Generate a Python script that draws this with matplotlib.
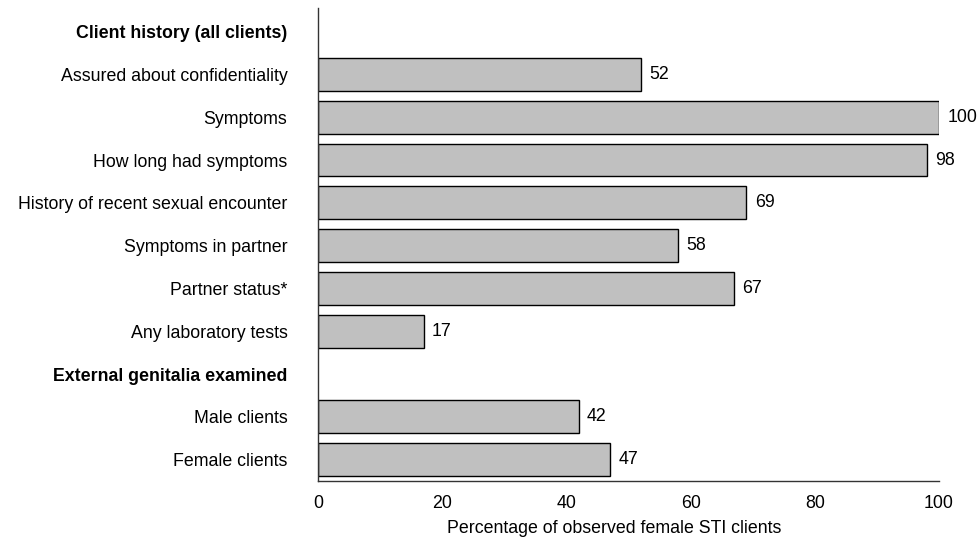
import numpy as np
import matplotlib
matplotlib.use("Agg")
import matplotlib.pyplot as plt

plt.rcParams['font.family'] = ['Liberation Sans', 'DejaVu Sans']

# rows top to bottom; None = section header (no bar)
labels = ['Client history (all clients)',
          'Assured about confidentiality',
          'Symptoms',
          'How long had symptoms',
          'History of recent sexual encounter',
          'Symptoms in partner',
          'Partner status*',
          'Any laboratory tests',
          'External genitalia examined',
          'Male clients',
          'Female clients']
values = [None, 52, 100, 98, 69, 58, 67, 17, None, 42, 47]
headers = [0, 8]

fs = 12.8

fig = plt.figure(figsize=(9.79, 5.39), dpi=100)
ax = fig.add_axes([0.3248, 0.1076, 0.6343, 0.8774])

pos = np.arange(len(labels))
for i, v in zip(pos, values):
    if v is None:
        continue
    ax.barh(i, v, height=0.77, color='#c0c0c0', edgecolor='black', linewidth=1.0)
    ax.annotate(str(v), (v, i), xytext=(6, 0), textcoords='offset points',
                va='center', ha='left', fontsize=fs)

ax.set_ylim(10.5, -0.55)
ax.set_xlim(0, 100)
ax.set_yticks(pos)
ax.set_yticklabels(labels, fontsize=fs)
for i in headers:
    ax.get_yticklabels()[i].set_fontweight('bold')
ax.tick_params(axis='y', length=0, pad=22)
ax.tick_params(axis='x', length=0, pad=10, labelsize=fs)
ax.set_xticks([0, 20, 40, 60, 80, 100])
ax.set_xlabel('Percentage of observed female STI clients', fontsize=fs)
ax.xaxis.set_label_coords(0.477, -0.083)

for s in ['top', 'right']:
    ax.spines[s].set_visible(False)
for s in ['left', 'bottom']:
    ax.spines[s].set_linewidth(1.0)
    ax.spines[s].set_color('#333333')

fig.savefig('out.png', dpi=100)
